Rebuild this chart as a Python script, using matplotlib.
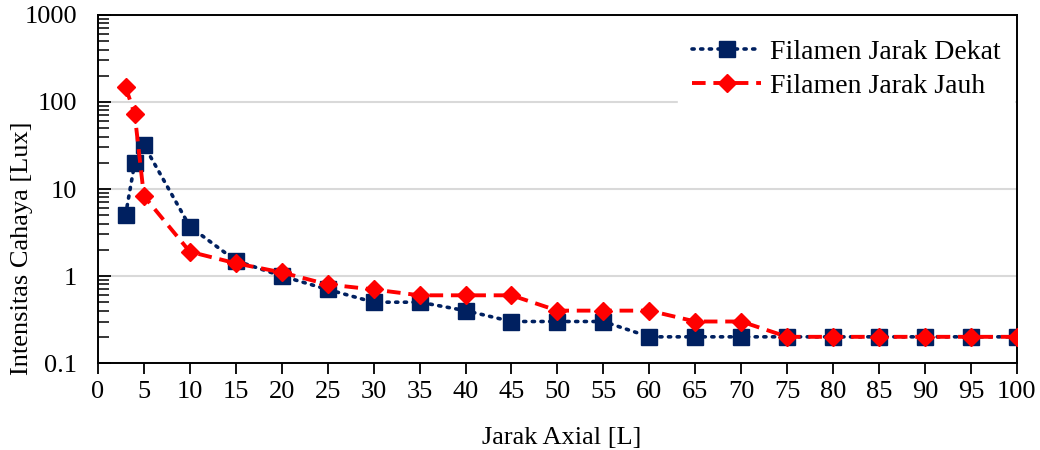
import matplotlib
matplotlib.use("Agg")
import matplotlib.pyplot as plt
from matplotlib.ticker import FuncFormatter, LogLocator, MultipleLocator

x = [3, 4, 5, 10, 15, 20, 25, 30, 35, 40, 45, 50, 55, 60, 65, 70, 75, 80, 85, 90, 95, 100]
dekat = [5, 20, 32, 3.7, 1.5, 1.0, 0.7, 0.5, 0.5, 0.4, 0.3, 0.3, 0.3, 0.2, 0.2, 0.2, 0.2, 0.2, 0.2, 0.2, 0.2, 0.2]
jauh = [150, 72, 8.3, 1.9, 1.4, 1.1, 0.8, 0.7, 0.6, 0.6, 0.6, 0.4, 0.4, 0.4, 0.3, 0.3, 0.2, 0.2, 0.2, 0.2, 0.2, 0.2]
labels = ["Filamen Jarak Dekat", "Filamen Jarak Jauh"]

plt.rcParams['font.family'] = ['Liberation Serif', 'DejaVu Serif']
fig = plt.figure(figsize=(10.4, 4.5), dpi=100)
ax = fig.add_axes([0.0942, 0.1933, 0.8836, 0.7734])

ax.plot(x, dekat, linestyle=(0, (0.6, 1.8)), dash_capstyle='round', color='#002060', lw=2.6,
        marker='s', markersize=11, markeredgecolor='#002060', label=labels[0], zorder=3)
ax.plot(x, jauh, linestyle=(0, (3.5, 2)), color='#FF0000', lw=2.8,
        marker='D', markersize=9, markeredgecolor='#FF0000', label=labels[1], zorder=4)

ax.set_yscale('log')
ax.set_ylim(0.1, 1000)
ax.set_xlim(0, 100)
ax.xaxis.set_major_locator(MultipleLocator(5))
ax.yaxis.set_major_formatter(FuncFormatter(lambda v, p: f"{v:g}"))
ax.yaxis.set_minor_locator(LogLocator(base=10, subs=range(2, 10)))
ax.yaxis.set_minor_formatter(FuncFormatter(lambda v, p: ""))
ax.grid(True, axis='y', which='major', color='#d9d9d9', lw=1.5)
ax.set_axisbelow(True)
ax.tick_params(axis='x', which='major', direction='out', length=8, width=1.3, labelsize=19,
               colors='black', pad=5)
ax.tick_params(axis='y', which='major', direction='in', length=9, width=1.3, labelsize=19,
               colors='black', pad=15)
ax.tick_params(axis='y', which='minor', direction='in', length=8, width=1.1)
for s in ax.spines.values():
    s.set_linewidth(1.4)
    s.set_color('black')

ax.set_xlabel("Jarak Axial [L]", fontsize=19)
ax.set_ylabel("Intensitas Cahaya [Lux]", fontsize=19)
ax.xaxis.set_label_coords(0.505, -0.215)
ax.xaxis.label.set_va('center')
ax.yaxis.set_label_coords(-0.083, 0.33)
ax.yaxis.label.set_va('center')

leg = ax.legend(loc='upper right', bbox_to_anchor=(0.997, 0.97), fontsize=20, frameon=True,
                fancybox=False, edgecolor='white', facecolor='white', framealpha=1,
                handlelength=2.5, handletextpad=0.3, labelspacing=0.3, borderpad=0.5,
                borderaxespad=0.0)

fig.savefig("out.png", dpi=100)
